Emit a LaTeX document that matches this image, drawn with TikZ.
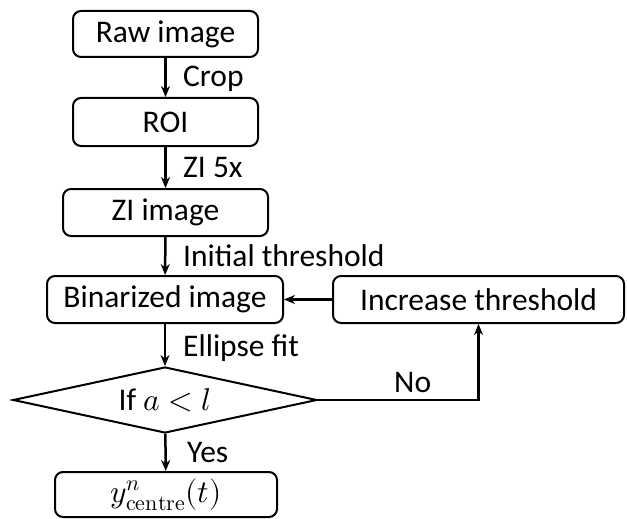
\documentclass[tikz,border=0pt]{standalone}
\usepackage{fontspec}
\usepackage{unicode-math}
\setmainfont{Carlito}
\setmathfont{Latin Modern Math}
\usepackage{tikz}
\usetikzlibrary{shapes.geometric, arrows.meta, positioning}

\begin{document}
\begin{tikzpicture}[
    x=1pt, y=-1pt,
    every node/.style={font=\fontsize{31.5}{36}\selectfont},
    box/.style={draw, rectangle, line width=2pt, minimum height=46pt, align=center, rounded corners=8pt, inner sep=0pt},
    decision/.style={draw, diamond, aspect=4.6, line width=2pt, minimum width=304pt, minimum height=66pt, inner sep=0pt},
    lbl/.style={anchor=west, inner sep=0pt},
    arrow/.style={-{Stealth[length=11pt,width=9pt]}, line width=2.5pt}
]
\useasboundingbox (0,0) rectangle (627,519);

% Main column
\node[box, minimum width=185pt] (raw) at (165.5, 34) {Raw image};
\node[box, minimum width=185pt, minimum height=48pt] (roi) at (165.5, 122) {ROI};
\node[box, minimum width=205pt, minimum height=47pt] (zi) at (165.5, 212.5) {ZI image};
\node[box, minimum width=236pt, minimum height=47pt] (bin) at (165, 299.5) {Binarized image};
\node[decision] (check) at (165, 400) {If $a<l$};
\node[box, minimum width=222pt, minimum height=45pt] (ycentre) at (166, 494.5) {$y^{n}_{\symup{centre}}(t)$};

% Loop branch
\node[box, minimum width=291pt, minimum height=47pt] (incr) at (478.5, 299.5) {Increase threshold};

% Arrows
\draw[arrow] (raw) -- (roi);
\draw[arrow] (roi) -- (zi);
\draw[arrow] (zi) -- (bin);
\draw[arrow] (bin) -- (check);
\draw[arrow] (check) -- (ycentre);
\draw[arrow] (incr) -- (bin);
\draw[arrow] (check.east) -| (incr.south);

% Labels
\node[lbl] (croplbl) at (183, 79) {Crop};
\node[lbl] (zilbl) at (183, 168) {ZI 5x};
\node[lbl] (initlbl) at (183, 256) {Initial threshold};
\node[lbl] (fitlbl) at (183, 348) {Ellipse fit};
\node[lbl] (nolbl) at (394, 383) {No};
\node[lbl] (yeslbl) at (187, 453) {Yes};

\end{tikzpicture}
\end{document}
